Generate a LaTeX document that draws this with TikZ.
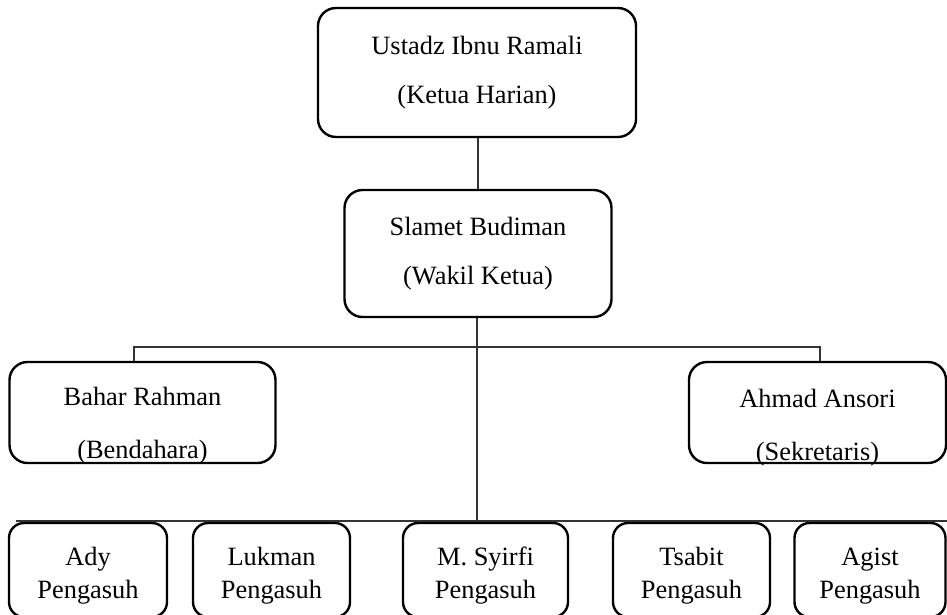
\documentclass[tikz,border=0pt]{standalone}
\usepackage{fontspec}
\setmainfont{Liberation Serif}
\usetikzlibrary{positioning,calc}

\tikzset{
  jabatan/.style={draw, line width=2.4pt, rounded corners=18pt, align=center, inner sep=0pt,
    font=\fontsize{26.4}{49}\selectfont},
  staf/.style={jabatan, minimum width=266pt, minimum height=101pt, inner ysep=-8pt,
    font=\fontsize{26.4}{53}\selectfont},
  pengasuh/.style={jabatan, rounded corners=15pt, minimum height=94pt,
    font=\fontsize{26.4}{33}\selectfont},
  garis/.style={line width=1.2pt, black!80}
}
% strut to push the text a little lower in its box
\newcommand{\turun}[1]{\rule{0pt}{#1}}

\begin{document}
\begin{tikzpicture}[x=1pt, y=-1pt]
        \useasboundingbox (0,0) rectangle (947,614);

        % Pimpinan
        \node[jabatan, minimum width=318pt, minimum height=129pt] (ketua) at (477,72.5) {Ustadz Ibnu Ramali\\(Ketua Harian)};
        \node[jabatan, minimum width=267pt, minimum height=127pt] (wakil) at (478,253.5) {Slamet Budiman\\(Wakil Ketua)};

        % Bendahara dan sekretaris
        \node[staf] (bendahara) at (142.5,412.5) {\turun{44pt}Bahar Rahman\\(Bendahara)};
        \node[staf, minimum width=257pt] (sekretaris) at (817.5,412.5) {\turun{48pt}Ahmad Ansori\\(Sekretaris)};

        % Pengasuh
        \node[pengasuh, minimum width=158pt] (ady) at (88,570) {\turun{29pt}Ady\\Pengasuh};
        \node[pengasuh, minimum width=157pt] (lukman) at (271.5,570) {\turun{29pt}Lukman\\Pengasuh};
        \node[pengasuh, minimum width=165pt] (syirfi) at (485.5,570) {\turun{29pt}M. Syirfi\\Pengasuh};
        \node[pengasuh, minimum width=157pt] (tsabit) at (691.5,570) {\turun{29pt}Tsabit\\Pengasuh};
        \node[pengasuh, minimum width=151pt] (agist) at (870,570) {\turun{29pt}Agist\\Pengasuh};

        % Connections
        \draw[garis] (ketua.south) -- (wakil.south |- ketua.south) -- (wakil.north);
        \coordinate (kiri) at (134,347);
        \coordinate (kanan) at (820,347);
        \draw[garis] (kiri |- bendahara.north) -- (kiri) -- (kanan) -- (kanan |- sekretaris.north);
        \coordinate (barkiri) at (16,521);
        \coordinate (barkanan) at (947,521);
        \draw[garis] (barkiri) -- (barkanan);
        \draw[garis] ([xshift=-1pt]wakil.south) -- ([xshift=-1pt]wakil.south |- barkiri);
    \end{tikzpicture}
\end{document}
